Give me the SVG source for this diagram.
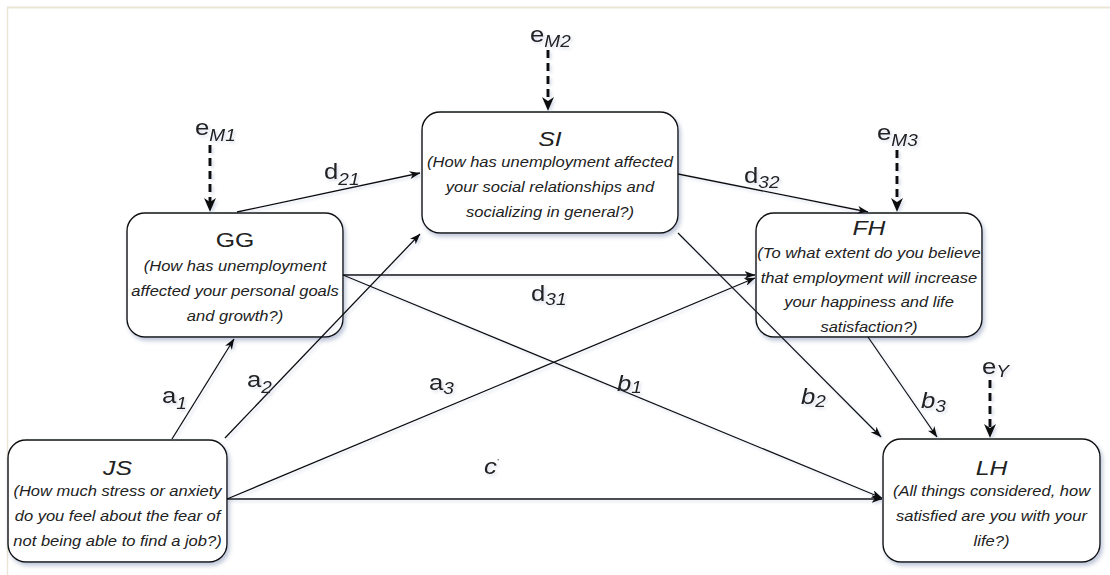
<svg xmlns="http://www.w3.org/2000/svg" width="1110" height="575" viewBox="0 0 1110 575">
<style>
.box{fill:#fff;stroke:#111;stroke-width:1.4}
.title{font-family:"Liberation Sans",Arial,sans-serif;font-size:21px;fill:#222;text-anchor:middle}
.it{font-style:italic}
.q{font-family:"Liberation Sans",Arial,sans-serif;font-size:14px;font-style:italic;fill:#222;text-anchor:middle}
.edge{fill:none;stroke:#111;stroke-width:1.3}
.dash{fill:none;stroke:#111;stroke-width:3;stroke-dasharray:8 5}
.lbl{font-family:"Liberation Sans",Arial,sans-serif;font-size:23px;fill:#222}
.sub{font-size:17px;font-style:italic}
</style>
<defs>
<filter id="sh" x="-10%" y="-10%" width="130%" height="140%">
<feDropShadow dx="2" dy="3" stdDeviation="2" flood-color="#7080a8" flood-opacity="0.45"/>
</filter>
<filter id="lsh" x="-20%" y="-20%" width="150%" height="150%">
<feDropShadow dx="2" dy="2" stdDeviation="1.5" flood-color="#8090b8" flood-opacity="0.3"/>
</filter>
<marker id="ah" viewBox="0 0 11 8" markerWidth="11" markerHeight="8" refX="10.5" refY="4" orient="auto" markerUnits="userSpaceOnUse">
<path d="M0,0 L11,4 L0,8 L3,4 Z" fill="#111"/>
</marker>
<marker id="dh" viewBox="0 0 14 12" markerWidth="14" markerHeight="12" refX="4" refY="6" orient="auto" markerUnits="userSpaceOnUse">
<path d="M0,0 L14,6 L0,12 L4,6 Z" fill="#111"/>
</marker>
</defs>
<rect width="1110" height="575" fill="#fff"/>
<line x1="7" y1="7.5" x2="1110" y2="7.5" stroke="#ebe5d6" stroke-width="2"/>
<line x1="7.5" y1="7" x2="7.5" y2="575" stroke="#ebe5d6" stroke-width="1.5"/>

<g id="node-GG">
<rect class="box" x="127" y="213" width="216" height="124" rx="18" filter="url(#sh)"/>
<text class="title" transform="translate(235,247) scale(1.18,1)">GG</text>
<text class="q" transform="translate(235,271) scale(1.18,1)">(How has unemployment</text>
<text class="q" transform="translate(235,296) scale(1.18,1)">affected your personal goals</text>
<text class="q" transform="translate(235,321) scale(1.18,1)">and growth?)</text>
</g>
<g id="node-SI">
<rect class="box" x="422" y="112" width="256" height="121" rx="18" filter="url(#sh)"/>
<text class="title it" transform="translate(550,146) scale(1.18,1)">SI</text>
<text class="q" transform="translate(550,167) scale(1.18,1)">(How has unemployment affected</text>
<text class="q" transform="translate(550,192) scale(1.18,1)">your social relationships and</text>
<text class="q" transform="translate(550,217) scale(1.18,1)">socializing in general?)</text>
</g>
<g id="node-FH">
<rect class="box" x="756" y="213" width="226" height="124" rx="18" filter="url(#sh)"/>
<text class="title it" transform="translate(869,235) scale(1.18,1)">FH</text>
<text class="q" transform="translate(869,258) scale(1.18,1)">(To what extent do you believe</text>
<text class="q" transform="translate(869,283) scale(1.18,1)">that employment will increase</text>
<text class="q" transform="translate(869,307) scale(1.18,1)">your happiness and life</text>
<text class="q" transform="translate(869,332) scale(1.18,1)">satisfaction?)</text>
</g>
<g id="node-JS">
<rect class="box" x="8" y="440" width="219" height="122" rx="18" filter="url(#sh)"/>
<text class="title it" transform="translate(117.5,475) scale(1.18,1)">JS</text>
<text class="q" transform="translate(117.5,496) scale(1.18,1)">(How much stress or anxiety</text>
<text class="q" transform="translate(117.5,521) scale(1.18,1)">do you feel about the fear of</text>
<text class="q" transform="translate(117.5,546) scale(1.18,1)">not being able to find a job?)</text>
</g>
<g id="node-LH">
<rect class="box" x="883" y="439" width="217" height="123" rx="18" filter="url(#sh)"/>
<text class="title it" transform="translate(991.5,475) scale(1.18,1)">LH</text>
<text class="q" transform="translate(991.5,496) scale(1.18,1)">(All things considered, how</text>
<text class="q" transform="translate(991.5,521) scale(1.18,1)">satisfied are you with your</text>
<text class="q" transform="translate(991.5,546) scale(1.18,1)">life?)</text>
</g>

<g id="connectors" filter="url(#lsh)">
<line class="edge" x1="237" y1="212" x2="420" y2="173" marker-end="url(#ah)"/>
<line class="edge" x1="678" y1="174" x2="868" y2="212" marker-end="url(#ah)"/>
<line class="edge" x1="343" y1="275" x2="755" y2="275" marker-end="url(#ah)"/>
<line class="edge" x1="172" y1="439" x2="234" y2="339" marker-end="url(#ah)"/>
<line class="edge" x1="225" y1="438" x2="420" y2="234" marker-end="url(#ah)"/>
<line class="edge" x1="227" y1="499" x2="755" y2="278" marker-end="url(#ah)"/>
<line class="edge" x1="227" y1="499" x2="882" y2="499" marker-end="url(#ah)"/>
<line class="edge" x1="343" y1="275" x2="882" y2="498" marker-end="url(#ah)"/>
<line class="edge" x1="678" y1="233" x2="881" y2="437" marker-end="url(#ah)"/>
<line class="edge" x1="868" y1="337" x2="937" y2="437" marker-end="url(#ah)"/>
<line class="dash" x1="210" y1="145" x2="210" y2="202" marker-end="url(#dh)"/>
<line class="dash" x1="548" y1="50" x2="548" y2="101" marker-end="url(#dh)"/>
<line class="dash" x1="897" y1="150" x2="897" y2="202" marker-end="url(#dh)"/>
<line class="dash" x1="990" y1="380" x2="990" y2="428" marker-end="url(#dh)"/>
</g>

<g id="labels" filter="url(#lsh)">
<text class="lbl" transform="translate(195,135) scale(1.12,1)">e<tspan class="sub" dy="6">M1</tspan></text>
<text class="lbl" transform="translate(530,42) scale(1.12,1)">e<tspan class="sub" dy="5">M2</tspan></text>
<text class="lbl" transform="translate(877,140) scale(1.12,1)">e<tspan class="sub" dy="6">M3</tspan></text>
<text class="lbl" transform="translate(982,374) scale(1.12,1)">e<tspan class="sub" dy="3">Y</tspan></text>
<text class="lbl" transform="translate(324,179) scale(1.12,1)">d<tspan class="sub" dy="6">21</tspan></text>
<text class="lbl" transform="translate(744,183) scale(1.12,1)">d<tspan class="sub" dy="5">32</tspan></text>
<text class="lbl" transform="translate(531,301) scale(1.12,1)">d<tspan class="sub" dy="4">31</tspan></text>
<text class="lbl" transform="translate(162,403) scale(1.12,1)">a<tspan class="sub" dy="6">1</tspan></text>
<text class="lbl" transform="translate(247,387) scale(1.12,1)">a<tspan class="sub" dy="6">2</tspan></text>
<text class="lbl" transform="translate(429,390) scale(1.12,1)">a<tspan class="sub" dy="4">3</tspan></text>
<text class="lbl it" transform="translate(617,391) scale(1.12,1)">b<tspan class="sub" dy="2">1</tspan></text>
<text class="lbl it" transform="translate(801,404) scale(1.12,1)">b<tspan class="sub" dy="3">2</tspan></text>
<text class="lbl it" transform="translate(921,408) scale(1.12,1)">b<tspan class="sub" dy="4">3</tspan></text>
<text class="lbl it" transform="translate(484,474) scale(1.12,1)">c<tspan font-size="8" dy="-10">'</tspan></text>
</g>
</svg>
